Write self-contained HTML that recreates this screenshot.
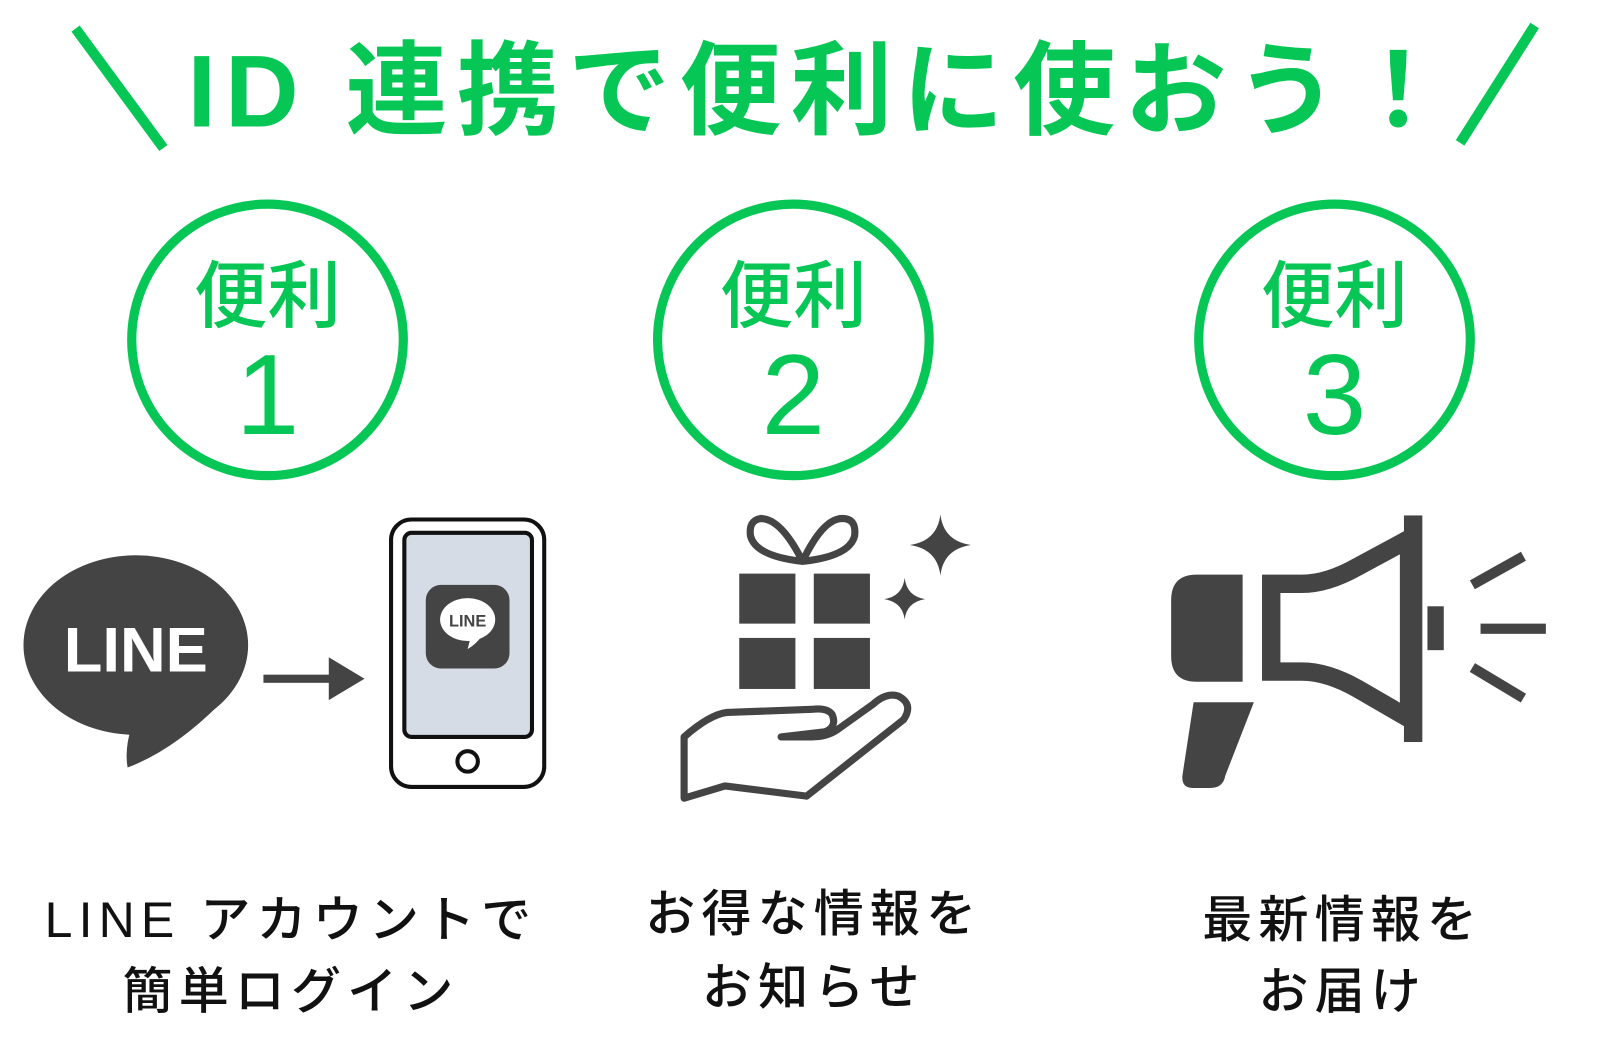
<!DOCTYPE html>
<html><head><meta charset="utf-8"><style>
html,body{margin:0;padding:0;background:#fff;}
svg{display:block;}
text{font-family:"Liberation Sans","Noto Sans CJK JP",sans-serif;}
</style></head><body>
<svg width="1600" height="1037" viewBox="0 0 1567 1016" preserveAspectRatio="none" xmlns="http://www.w3.org/2000/svg">
<g stroke="#06c755" stroke-width="10" stroke-linecap="butt">
<line x1="74" y1="28" x2="160" y2="145"/>
<line x1="1503" y1="25" x2="1430" y2="140"/>
</g>
<text x="806" y="124" font-size="100" fill="#06c755" text-anchor="middle" font-weight="bold" letter-spacing="9">ID 連携で便利に使おう！</text>
<g fill="none" stroke="#06c755" stroke-width="9">
<circle cx="262" cy="333" r="133"/>
<circle cx="777" cy="333" r="133"/>
<circle cx="1307" cy="333" r="133"/>
</g>
<g fill="#06c755" text-anchor="middle">
<text x="262" y="315" font-size="72" font-weight="500">便利</text>
<text x="262" y="425" font-size="112">1</text>
<text x="777" y="315" font-size="72" font-weight="500">便利</text>
<text x="777" y="425" font-size="112">2</text>
<text x="1307" y="315" font-size="72" font-weight="500">便利</text>
<text x="1307" y="425" font-size="112">3</text>
</g>
<g fill="#444">
<ellipse cx="133" cy="632" rx="110" ry="88"/>
<path d="M105 700 L128 715 Q122 735 125 752 Q170 735 215 690 Z"/>
</g>
<text x="133" y="658" font-size="62" font-weight="bold" fill="#fff" text-anchor="middle">LINE</text>
<rect x="258" y="661" width="68" height="8" fill="#444"/>
<polygon points="322,644 357,665 322,686" fill="#444"/>
<rect x="383" y="509" width="150" height="262" rx="20" fill="#fff" stroke="#111" stroke-width="4"/>
<rect x="396" y="522" width="125" height="200" rx="7" fill="#d5dce6" stroke="#111" stroke-width="4"/>
<circle cx="458" cy="746" r="10" fill="none" stroke="#111" stroke-width="4"/>
<rect x="417" y="573" width="82" height="82" rx="15" fill="#444"/>
<ellipse cx="458" cy="607" rx="27" ry="21" fill="#fff"/>
<path d="M448 622 L460 628 L458 636 Q468 630 474 620 Z" fill="#fff"/>
<text x="458" y="614" font-size="16" font-weight="bold" fill="#444" text-anchor="middle">LINE</text>
<g fill="#444">
<rect x="724" y="562" width="55" height="49"/>
<rect x="797" y="562" width="55" height="49"/>
<rect x="724" y="625" width="55" height="50"/>
<rect x="797" y="625" width="55" height="50"/>
</g>
<g fill="none" stroke="#444" stroke-width="7" stroke-linejoin="round" stroke-linecap="round">
<path d="M786 550 Q765 508 745 508 Q733 510 735 525 Q740 545 786 550 Q832 545 837 525 Q839 508 825 508 Q806 508 786 550"/>
<path d="M670 722 L670 782 L710 770 L790 780 L885 705 Q895 690 880 682 Q868 678 855 690 L820 715 Q810 722 795 722 L765 722 L808 717 Q820 712 815 700 Q810 693 795 695 L712 698 Q695 700 670 722"/>
</g>
<g fill="#444">
<path d="M921 504 Q924 530 951 534 Q924 538 921 564 Q918 538 891 534 Q918 530 921 504Z"/>
<path d="M886 566 Q888 584 906 587 Q888 590 886 607 Q884 590 866 587 Q884 584 886 566Z"/>
</g>
<g fill="#444">
<path d="M1172 563 L1217 563 L1217 668 L1172 668 Q1147 668 1147 643 L1147 588 Q1147 563 1172 563Z"/>
<path d="M1169 688 L1228 688 L1200 760 Q1198 772 1185 772 L1168 772 Q1157 772 1158 760Z"/>
<rect x="1375" y="505" width="18" height="222"/>
<rect x="1398" y="594" width="16" height="43"/>
<rect x="1450" y="611" width="64" height="10"/>
</g>
<path d="M1245 572 L1275 572 Q1300 572 1330 555 L1380 528 L1380 704 L1330 675 Q1300 658 1275 658 L1245 658 Z" fill="none" stroke="#444" stroke-width="18"/>
<g stroke="#444" stroke-width="10">
<line x1="1442" y1="573" x2="1492" y2="545"/>
<line x1="1442" y1="654" x2="1492" y2="684"/>
</g>
<g fill="#111" font-size="49" font-weight="500" text-anchor="middle" letter-spacing="6">
<text x="285" y="918">LINE アカウントで</text>
<text x="285" y="988">簡単ログイン</text>
<text x="797" y="912">お得な情報を</text>
<text x="797" y="984">お知らせ</text>
<text x="1315" y="918">最新情報を</text>
<text x="1315" y="988">お届け</text>
</g>
</svg>
</body></html>
